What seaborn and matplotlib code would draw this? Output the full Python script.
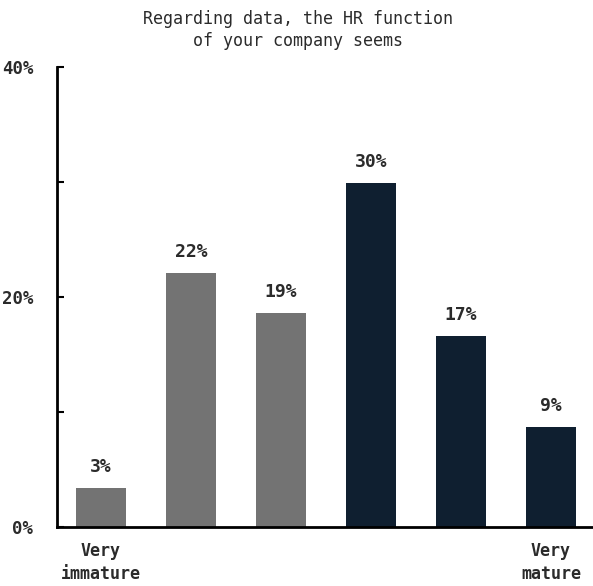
import matplotlib
matplotlib.use("Agg")
import matplotlib.pyplot as plt
import seaborn as sns
import pandas as pd

# Survey answers on a 6-point maturity scale (share of respondents, %)
levels = ["1", "2", "3", "4", "5", "6"]
shares = [3.4, 22.1, 18.6, 29.9, 16.6, 8.7]
bar_colors = ["#737373", "#737373", "#737373", "#0f1f30", "#0f1f30", "#0f1f30"]
x_labels = ["Very\nimmature", "", "", "", "", "Very\nmature"]
y_major = [0, 20, 40]
y_minor = [10, 30]
title = "Regarding data, the HR function\nof your company seems"

sns.set_style("white")
plt.rcParams["font.family"] = ["DejaVu Sans Mono"]

df = pd.DataFrame({"level": levels, "share": shares})

fig = plt.figure(figsize=(5.93, 5.86), dpi=100)
ax = fig.add_axes([57 / 593, 59 / 586, 536 / 593, 460 / 586])

sns.barplot(data=df, x="level", y="share", hue="level", palette=bar_colors,
            width=0.556, legend=False, ax=ax, saturation=1, linewidth=0)

for i, v in enumerate(shares):
    ax.text(i, v + 1.05, f"{round(v)}%", ha="center", va="bottom",
            fontsize=13, fontweight="bold", color="#2b2b2b")

ax.set_xlim(-0.489, 5.467)
ax.set_ylim(0, 40)
ax.set_yticks(y_major)
ax.set_yticklabels([f"{t}%" for t in y_major], fontsize=12.5, fontweight="bold",
                   color="#2b2b2b")
ax.set_yticks(y_minor, minor=True)
ax.tick_params(axis="y", which="both", left=True, direction="in", length=5,
               width=1.5, color="black", pad=17)
ax.set_xticks(range(len(levels)))
ax.set_xticklabels(x_labels, fontsize=12, fontweight="bold", color="#2b2b2b",
                   linespacing=1.35)
ax.tick_params(axis="x", bottom=False, length=0, pad=11)
ax.set_xlabel("")
ax.set_ylabel("")

for side in ["top", "right"]:
    ax.spines[side].set_visible(False)
for side in ["left", "bottom"]:
    ax.spines[side].set_linewidth(2)
    ax.spines[side].set_color("black")

fig.suptitle(title, x=298 / 593, y=1 - 10 / 586, va="top", fontsize=12,
             fontweight="medium", color="#2b2b2b", linespacing=1.3)

fig.savefig("out.png", dpi=100)
